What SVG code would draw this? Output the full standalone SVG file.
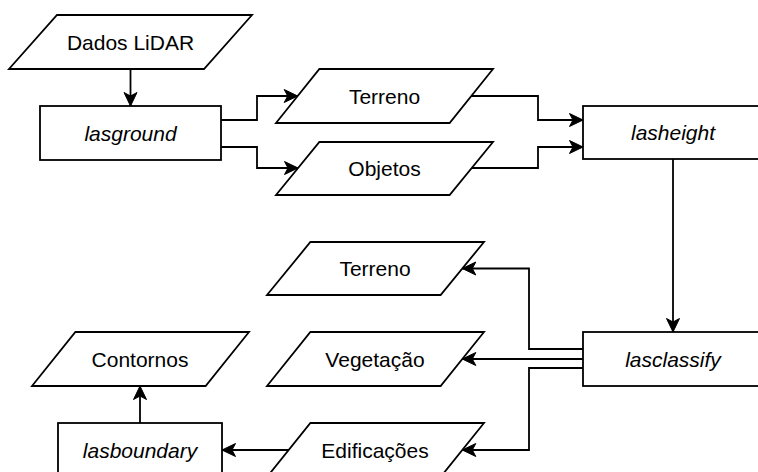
<svg xmlns="http://www.w3.org/2000/svg" width="758" height="472" viewBox="0 0 758 472">
<defs>
<style>
.shape{fill:#fff;stroke:#000;stroke-width:1.8;stroke-linejoin:miter}
.lbl{font-family:"Liberation Sans",Arial,sans-serif;font-size:21px;fill:#000;text-anchor:middle}
.it{font-style:italic}
.edge{fill:none;stroke:#000;stroke-width:1.8}
</style>
<marker id="arr" markerUnits="userSpaceOnUse" markerWidth="16" markerHeight="16" viewBox="0 0 16 16" refX="15" refY="8" orient="auto">
<path d="M1.5,1.5 L15,8 L1.5,14.5 L5,8 Z" fill="#000" stroke="#000" stroke-width="1"/>
</marker>
</defs>
<rect width="758" height="472" fill="#fff"/>
<g id="connectors">
<path class="edge" marker-end="url(#arr)" d="M130.5,69 V106"/>
<path class="edge" marker-end="url(#arr)" d="M221,120 H257 V96 H297.7"/>
<path class="edge" marker-end="url(#arr)" d="M221,147 H257 V168 H298"/>
<path class="edge" marker-end="url(#arr)" d="M471.3,96 H538 V120 H583"/>
<path class="edge" marker-end="url(#arr)" d="M471.7,168 H538 V147 H583"/>
<path class="edge" marker-end="url(#arr)" d="M673,159 V332"/>
<path class="edge" marker-end="url(#arr)" d="M583,349 H529 V268.5 H462.3"/>
<path class="edge" marker-end="url(#arr)" d="M583,359 H462.3"/>
<path class="edge" marker-end="url(#arr)" d="M583,368 H529 V450 H462.3"/>
<path class="edge" marker-end="url(#arr)" d="M288.7,450 H222"/>
<path class="edge" marker-end="url(#arr)" d="M140,423 V386"/>
</g>
<g id="dados">
<polygon class="shape" points="57,15 252,15 204,69 9,69"/>
<text class="lbl" x="130.5" y="49.5">Dados LiDAR</text>
</g>
<g id="lasground">
<rect class="shape" x="40" y="106" width="181" height="54"/>
<text class="lbl it" x="130.5" y="140.5">lasground</text>
</g>
<g id="terreno1">
<polygon class="shape" points="319.4,69 493,69 449.6,123 276,123"/>
<text class="lbl" x="384.5" y="103.5">Terreno</text>
</g>
<g id="objetos">
<polygon class="shape" points="319.4,142 493,142 449.6,195 276,195"/>
<text class="lbl" x="384.5" y="176">Objetos</text>
</g>
<g id="lasheight">
<rect class="shape" x="583" y="106" width="181" height="53"/>
<text class="lbl it" x="673" y="140">lasheight</text>
</g>
<g id="lasclassify">
<rect class="shape" x="583" y="332" width="181" height="54"/>
<text class="lbl it" x="673" y="366.5">lasclassify</text>
</g>
<g id="terreno2">
<polygon class="shape" points="310.4,242 484,242 440.6,295 267,295"/>
<text class="lbl" x="375" y="276">Terreno</text>
</g>
<g id="vegetacao">
<polygon class="shape" points="310.4,332 484,332 440.6,386 267,386"/>
<text class="lbl" x="375" y="366.5">Vegetação</text>
</g>
<g id="edificacoes">
<polygon class="shape" points="310.4,423 484,423 440.6,477 267,477"/>
<text class="lbl" x="375" y="457.5">Edificações</text>
</g>
<g id="contornos">
<polygon class="shape" points="75.4,332 249,332 205.6,386 32,386"/>
<text class="lbl" x="140" y="366.5">Contornos</text>
</g>
<g id="lasboundary">
<rect class="shape" x="58" y="423" width="164" height="54"/>
<text class="lbl it" x="140" y="457.5">lasboundary</text>
</g>
</svg>
